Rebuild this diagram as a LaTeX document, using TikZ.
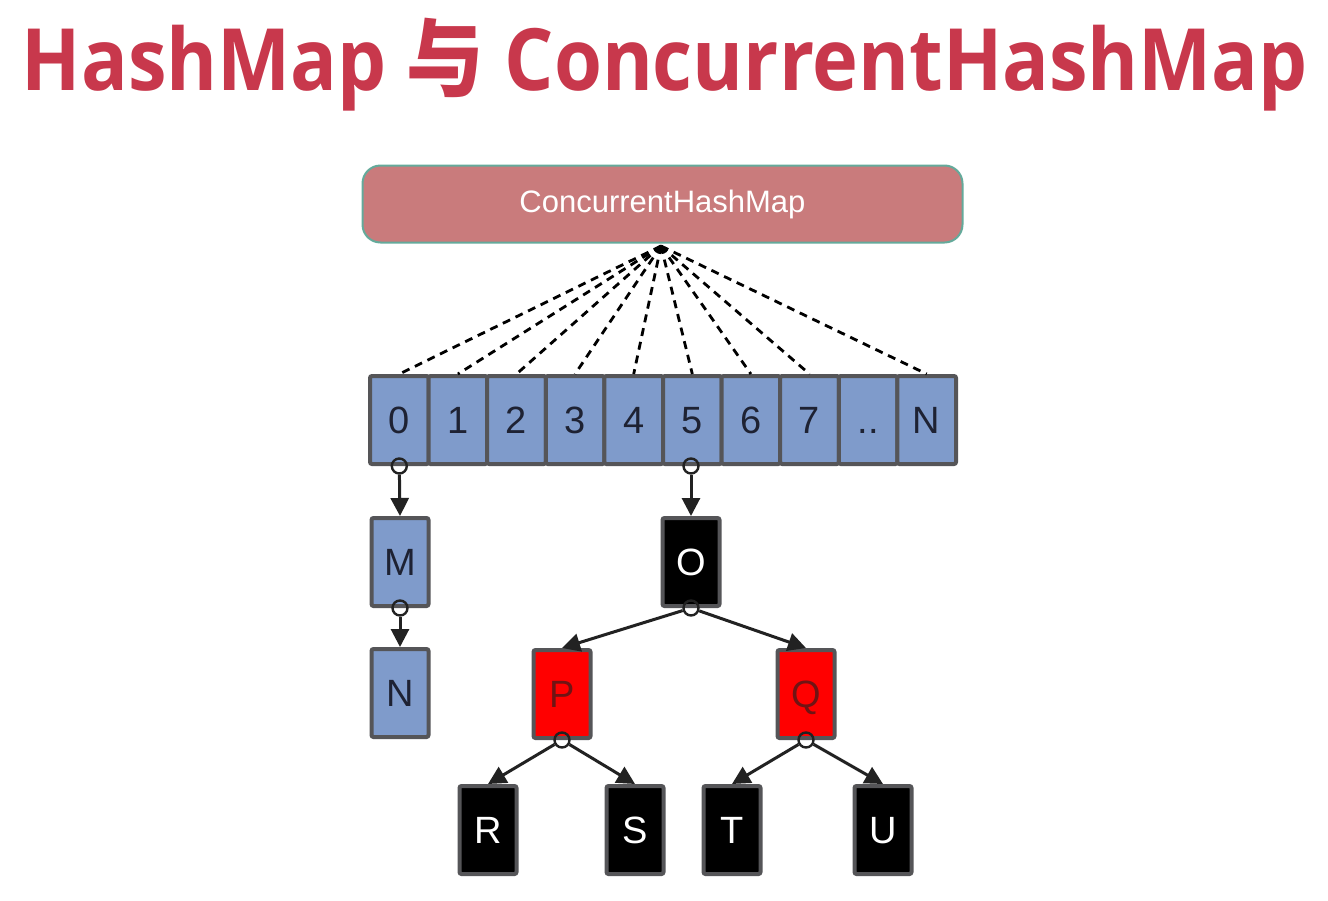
\documentclass[tikz,border=0pt]{standalone}
\usepackage{fontspec}
\usepackage{graphicx}
\setmainfont{Liberation Sans}
\newfontfamily\titlefont{Open Sans}
\newfontfamily\cjkfont{Noto Sans CJK SC}
\usetikzlibrary{arrows.meta}
\definecolor{titlered}{RGB}{200,56,76}
\definecolor{hubfill}{RGB}{201,123,124}
\definecolor{hubline}{RGB}{100,170,155}
\definecolor{cellblue}{RGB}{127,155,203}
\definecolor{cellline}{RGB}{85,85,88}
\definecolor{celltext}{RGB}{30,34,51}
\definecolor{darkred}{RGB}{112,20,20}
\definecolor{linkcol}{RGB}{34,34,34}
\tikzset{
  cell/.style={draw=cellline, line width=4pt, fill=cellblue, rounded corners=2pt,
    minimum width=58.6pt, minimum height=88pt, inner sep=0pt, text=celltext,
    text height=27pt, text depth=0pt,
    font=\fontsize{38}{40}\selectfont},
  bluebox/.style={cell, minimum width=57pt},
  blackbox/.style={cell, fill=black, text=white, minimum width=57pt},
  redbox/.style={cell, fill=red, text=darkred, minimum width=57pt},
  hook/.style={draw=linkcol, line width=2.4pt, fill=none, circle, minimum size=15pt, inner sep=0pt},
  link/.style={draw=linkcol, line width=3pt, -{Triangle[length=18pt,width=18pt]}},
  dashline/.style={draw=black, line width=2.8pt, dash pattern=on 8pt off 6pt},
}
\begin{document}
\begin{tikzpicture}[x=1pt,y=-1pt]
\useasboundingbox (0,0) rectangle (1328,900);
\fill[white] (0,0) rectangle (1328,900);
% title
\node[text=titlered, inner sep=0pt, anchor=base] (title) at (665,90)
  {\resizebox{1286pt}{\height}{\fontsize{86}{90}\selectfont\bfseries\titlefont HashMap {\cjkfont 与} ConcurrentHashMap}};
% top box
\node[draw=hubline, line width=2pt, fill=hubfill, rounded corners=18pt,
  minimum width=600pt, minimum height=77pt, text=white,
  font=\fontsize{31}{33}\selectfont] (top) at (662.5,204) {ConcurrentHashMap};
\coordinate (hub) at (661,246);
% array
\foreach \i/\t in {0/0,1/1,2/2,3/3,4/4,5/5,6/6,7/7,8/..,9/N}{
  \node[cell] (c\i) at ({370+58.6*(\i+0.5)},420) {\t};
}
\foreach \i in {0,1,2,3,4,5,6,7,9}{
  \draw[dashline] (hub) -- (c\i.north);
}
% chain
\node[bluebox] (M) at (400,562) {M};
\node[bluebox] (N) at (400,693) {N};
% tree
\node[blackbox] (O) at (691,562) {O};
\node[redbox] (P) at (562,694) {P};
\node[redbox] (Q) at (806,694) {Q};
\node[blackbox] (R) at (488,830) {R};
\node[blackbox] (S) at (635,830) {S};
\node[blackbox] (T) at (732,830) {T};
\node[blackbox] (U) at (883,830) {U};
% hooks
\node[hook] (h0) at (c0.south) {};
\node[hook] (h5) at (c5.south -| O) {};
\node[hook] (hM) at (M.south) {};
\node[hook] (hO) at (O.south) {};
\node[hook] (hP) at (P.south) {};
\node[hook] (hQ) at (Q.south) {};
% links
\draw[link] (h0) -- (M.north);
\draw[link] (h5) -- (O.north);
\draw[link] (hM) -- (N.north);
\draw[link] (hO) -- (P.north);
\draw[link] (hO) -- (Q.north);
\draw[link] (hP) -- (R.north);
\draw[link] (hP) -- (S.north);
\draw[link] (hQ) -- (T.north);
\draw[link] (hQ) -- (U.north);
\end{tikzpicture}
\end{document}
